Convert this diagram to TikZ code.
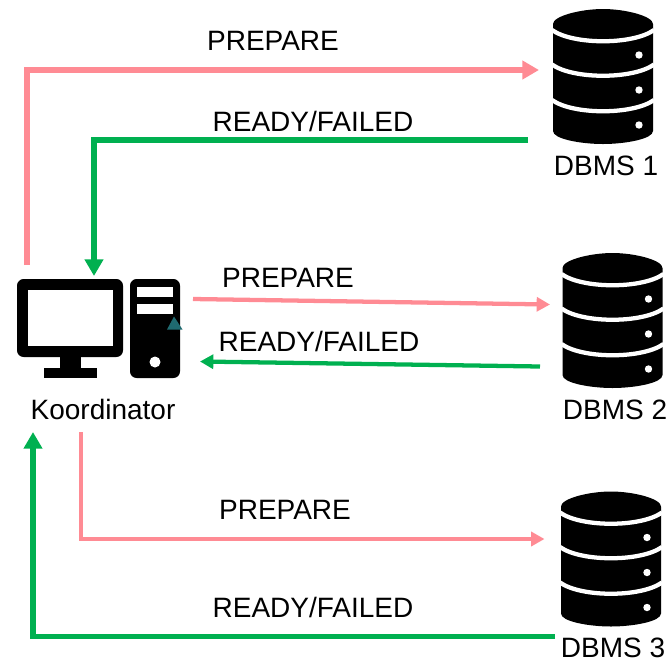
\documentclass[tikz,border=0pt]{standalone}
\usepackage{fontspec}
\setmainfont{Liberation Sans}
\usetikzlibrary{arrows.meta}
\definecolor{pinkline}{HTML}{FF8B94}
\definecolor{greenline}{HTML}{00B050}
\definecolor{tealmark}{HTML}{1F6A70}
\tikzset{
  label/.style={inner sep=0pt, font=\fontsize{21pt}{24pt}\selectfont},
  thickarrow/.style={line width=4.2pt, -{Triangle[length=12.5pt,width=13.5pt]}},
  thinarrow/.style={line width=3.2pt, -{Triangle[length=10pt,width=10.5pt]}},
  dbicon/.pic={
    \fill[black] (-50,15) .. controls (-50,7) and (-22,0) .. (0,0) .. controls (22,0) and (50,7) .. (50,15)
      -- (50,122) .. controls (50,130) and (22,135) .. (0,135) .. controls (-22,135) and (-50,130) .. (-50,122) -- cycle;
    \foreach \y in {21,55.5,91}
      \draw[white, line width=3.2pt] (-51,\y) .. controls (-30,\y+15) and (30,\y+15) .. (51,\y);
    \foreach \y in {46,81,116}
      \fill[white] (36,\y) circle (3.7);
  }
}
\begin{document}
\begin{tikzpicture}[x=0.75pt,y=-0.75pt]
\useasboundingbox (0,0) rectangle (669,662);

% Koordinator
\fill[black, rounded corners=5] (17,279) rectangle (123,357);
\fill[white] (28,290) rectangle (113,346);
\fill[black] (60,357) rectangle (81,368);
\fill[black] (44,368) rectangle (97,378);
\fill[black, rounded corners=5] (130,279) rectangle (180,378);
\fill[white] (137,287) rectangle (173,297);
\fill[white] (137,304) rectangle (173,314);
\fill[white] (155,362) circle (5.5);
\fill[tealmark] (174,316.5) -- (182.5,329.5) -- (167,329.5) -- cycle;
\node[label] (koord) at (103,409) {Koordinator};

% DBMS
\pic at (603,9) {dbicon};
\pic at (612.5,253) {dbicon};
\pic at (611,491.5) {dbicon};
\node[label] (dbms1) at (606,166) {DBMS 1};
\node[label] (dbms2) at (615,410) {DBMS 2};
\node[label] (dbms3) at (613,648) {DBMS 3};

% Endpunkte
\coordinate (p1a) at (27,265);
\coordinate (p1b) at (539,70);
\coordinate (r1a) at (528,140);
\coordinate (r1b) at (94,276);
\coordinate (p2a) at (193,299);
\coordinate (p2b) at (550,304.5);
\coordinate (r2a) at (540,366.5);
\coordinate (r2b) at (200,361.5);
\coordinate (p3a) at (81,432);
\coordinate (p3b) at (544.5,539);
\coordinate (r3a) at (555,636.5);
\coordinate (r3b) at (33,432);

% Pfeile
\draw[thickarrow, pinkline] (p1a) |- (p1b);
\draw[thickarrow, greenline] (r1a) -| (r1b);
\draw[thinarrow, pinkline] (p2a) -- (p2b);
\draw[thinarrow, greenline] (r2a) -- (r2b);
\draw[thinarrow, pinkline] (p3a) |- (p3b);
\draw[thickarrow, greenline] (r3a) -| (r3b);

% Beschriftung
\node[label] (prep1) at (273,41) {PREPARE};
\node[label] (fail1) at (313,121) {READY/FAILED};
\node[label] (prep2) at (288,278) {PREPARE};
\node[label] (fail2) at (319,341) {READY/FAILED};
\node[label] (prep3) at (285,510) {PREPARE};
\node[label] (fail3) at (313,607) {READY/FAILED};
\end{tikzpicture}
\end{document}
